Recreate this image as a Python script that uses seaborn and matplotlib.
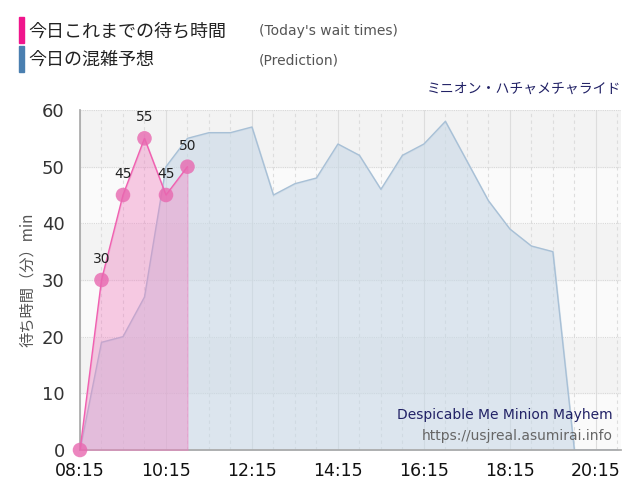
import matplotlib
matplotlib.use('Agg')
import matplotlib.pyplot as plt
import numpy as np
import seaborn as sns

# actual wait times (today)
act_times = ['08:15', '08:45', '09:15', '09:45', '10:15', '10:45']
act_waits = [0, 30, 45, 55, 45, 50]

# predicted wait times
pred_times = ['08:15', '08:45', '09:15', '09:45', '10:15', '10:45', '11:15', '11:45',
              '12:15', '12:45', '13:15', '13:45', '14:15', '14:45', '15:15', '15:45',
              '16:15', '16:45', '17:15', '17:45', '18:15', '18:45', '19:15', '19:45',
              '20:15', '20:45']
pred_waits = [0, 19, 20, 27, 50, 55, 56, 56, 57, 45, 47, 48, 54, 52, 46, 52,
              54, 58, 51, 44, 39, 36, 35, 0, 0, 0]

tick_labels = ['08:15', '10:15', '12:15', '14:15', '16:15', '18:15', '20:15']


def to_hours(t):
    h, m = t.split(':')
    return int(h) + int(m) / 60.0


sns.set_theme(style='white')
plt.rcParams['font.family'] = ['DejaVu Sans', 'Noto Sans CJK JP']

ax_x = [to_hours(t) for t in act_times]
px = [to_hours(t) for t in pred_times]

fig = plt.figure(figsize=(6.4, 5), dpi=100)
ax = fig.add_axes([0.125, 0.1, 0.845, 0.68])

for i in range(6):
    ax.axhspan(i * 10, i * 10 + 10, color='#f3f3f3' if i % 2 else '#fafafa', zorder=0)
for x in np.arange(8.25, 21, 0.5):
    major = abs((x - 8.25) % 2) < 1e-6
    ax.axvline(x, color='#dddddd', lw=0.8, ls='-' if major else (0, (3, 3)), zorder=0.5)
for y in range(0, 61, 10):
    ax.axhline(y, color='#d8d8d8', lw=0.8, ls=(0, (1, 1)), zorder=0.5)

ax.fill_between(px, pred_waits, color='#c8d8e6', alpha=0.6, zorder=1)
sns.lineplot(x=px, y=pred_waits, color='#a8c0d6', lw=1, ax=ax, zorder=2)
ax.fill_between(ax_x, act_waits, color='#f080c0', alpha=0.4, zorder=3)
sns.lineplot(x=ax_x, y=act_waits, color='#f060b0', lw=1, ax=ax, zorder=4)
sns.scatterplot(x=ax_x, y=act_waits, color='#e868b0', s=110, alpha=0.8,
                edgecolor='none', ax=ax, zorder=5, clip_on=False)
for x, y in zip(ax_x[1:], act_waits[1:]):
    ax.text(x, y + 2.5, str(y), ha='center', va='bottom', fontsize=10, color='#222222', zorder=6)

ax.set_xlim(8.25, 20.83)
ax.set_ylim(0, 60)
ax.set_xticks([to_hours(t) for t in tick_labels])
ax.set_xticklabels(tick_labels, fontsize=12.5, color='#111111')
ax.set_yticks(range(0, 61, 10))
ax.set_yticklabels([str(v) for v in range(0, 61, 10)], fontsize=13, color='#333333')
ax.set_ylabel('待ち時間（分）min', fontsize=11, color='#555555',
              family=['Noto Sans CJK JP', 'DejaVu Sans'])
ax.tick_params(axis='y', length=0, pad=11)
ax.tick_params(axis='x', length=0, pad=9)
for s in ['top', 'right']:
    ax.spines[s].set_visible(False)
ax.spines['left'].set_color('#aaaaaa')
ax.spines['bottom'].set_color('#aaaaaa')

ax.text(0.985, 0.09, 'Despicable Me Minion Mayhem', transform=ax.transAxes,
        ha='right', fontsize=10, color='#222266', zorder=7)
ax.text(0.985, 0.03, 'https://usjreal.asumirai.info', transform=ax.transAxes,
        ha='right', fontsize=10, color='#666666', zorder=7)

cjk = ['Noto Sans CJK JP', 'DejaVu Sans']
fig.patches.append(plt.Rectangle((0.03, 0.915), 0.008, 0.05, color='#f0158c', transform=fig.transFigure))
fig.patches.append(plt.Rectangle((0.03, 0.857), 0.008, 0.05, color='#4a7fb0', transform=fig.transFigure))
fig.text(0.045, 0.938, '今日これまでの待ち時間', fontsize=13, va='center', color='#222222', family=cjk)
fig.text(0.405, 0.938, "(Today's wait times)", fontsize=10, va='center', color='#555555')
fig.text(0.045, 0.880, '今日の混雑予想', fontsize=13, va='center', color='#222222', family=cjk)
fig.text(0.405, 0.880, '(Prediction)', fontsize=10, va='center', color='#555555')
fig.text(0.97, 0.822, 'ミニオン・ハチャメチャライド', fontsize=10, ha='right', va='center',
         color='#222266', family=cjk)

fig.savefig('out.png', dpi=100)
